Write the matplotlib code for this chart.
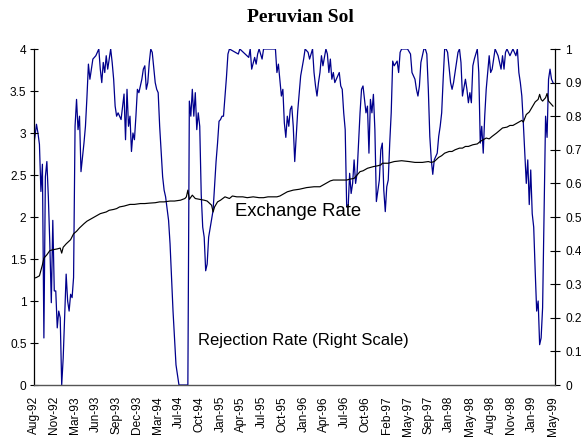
import matplotlib
matplotlib.use("Agg")
import matplotlib.pyplot as plt
import numpy as np

plt.rcParams['font.family'] = ['Liberation Sans', 'DejaVu Sans']

# x-axis category labels (one every 14 weekly observations)
tick_labels = ["Aug-92", "Nov-92", "Mar-93", "Jun-93", "Sep-93", "Dec-93", "Mar-94",
               "Jul-94", "Oct-94", "Jan-95", "Apr-95", "Jul-95", "Oct-95", "Jan-96",
               "Apr-96", "Jul-96", "Oct-96", "Feb-97", "May-97", "Sep-97", "Jan-98",
               "May-98", "Aug-98", "Nov-98", "Jan-99", "May-99"]
label_step = 14

# Exchange rate (left scale): (week index, value)
exchange_rate = [
    (0, 1.27), (2, 1.28), (4, 1.30), (6, 1.43), (7, 1.51), (9, 1.55), (11, 1.60), (13, 1.61),
    (16, 1.62), (18, 1.63), (19, 1.57), (20, 1.64), (22, 1.68), (25, 1.73), (27, 1.80),
    (29, 1.83), (31, 1.87), (34, 1.92), (36, 1.95), (38, 1.97), (40, 1.99), (43, 2.02),
    (45, 2.04), (47, 2.05), (49, 2.06), (51, 2.08), (54, 2.09), (56, 2.10), (58, 2.12),
    (61, 2.13), (65, 2.15), (68, 2.15), (72, 2.16), (75, 2.16), (78, 2.165), (82, 2.17),
    (85, 2.18), (88, 2.18), (92, 2.19), (95, 2.19), (99, 2.20), (102, 2.22), (103, 2.24),
    (104, 2.32), (105, 2.21), (107, 2.26), (109, 2.22), (112, 2.21), (115, 2.20), (117, 2.19),
    (120, 2.14), (121, 2.06), (122, 2.12), (124, 2.18), (126, 2.20), (129, 2.24), (132, 2.22),
    (134, 2.25), (137, 2.24), (141, 2.24), (144, 2.23), (148, 2.24), (152, 2.23), (155, 2.23),
    (158, 2.24), (161, 2.24), (164, 2.24), (166, 2.25), (169, 2.28), (171, 2.30), (173, 2.31),
    (175, 2.32), (179, 2.33), (184, 2.35), (189, 2.36), (193, 2.36), (197, 2.40), (200, 2.43),
    (202, 2.44), (206, 2.44), (211, 2.44), (213, 2.45), (216, 2.46), (218, 2.50), (220, 2.54),
    (222, 2.55), (225, 2.58), (229, 2.60), (232, 2.61), (234, 2.62), (235, 2.64), (239, 2.64),
    (243, 2.66), (248, 2.67), (253, 2.66), (257, 2.65), (262, 2.65), (266, 2.66), (268, 2.65),
    (270, 2.66), (273, 2.71), (275, 2.73), (277, 2.76), (280, 2.78), (282, 2.78), (284, 2.80),
    (287, 2.82), (289, 2.82), (291, 2.84), (293, 2.84), (296, 2.86), (299, 2.87), (301, 2.90),
    (303, 2.92), (305, 2.94), (307, 2.93), (309, 2.96), (312, 3.00), (314, 3.03), (316, 3.06),
    (319, 3.07), (321, 3.09), (323, 3.09), (325, 3.11), (327, 3.13), (329, 3.15), (330, 3.13),
    (332, 3.22), (334, 3.25), (336, 3.31), (338, 3.37), (340, 3.40), (341, 3.46), (342, 3.40),
    (343, 3.38), (345, 3.42), (346, 3.47), (347, 3.38), (348, 3.36), (349, 3.34), (350, 3.32),
]

# Rejection rate (right scale): (week index, value)
rejection_rate = [
    (0, .71), (1, .74), (2, .776), (3, .75), (4, .716), (5, .576), (6, .657), (7, .14), (8, .62),
    (9, .665), (10, .56), (11, .42), (12, .245), (13, .49), (14, .28), (15, .28), (16, .17),
    (17, .22), (18, .20), (19, 0), (20, .08), (22, .33), (23, .25), (24, .22), (25, .27),
    (26, .26), (27, .32), (28, .77), (29, .85), (30, .76), (31, .80), (32, .635), (34, .72),
    (35, .77), (36, .856), (37, .955), (38, .91), (39, .94), (40, .97), (42, .98), (44, 1.0),
    (45, .94), (46, .90), (47, .96), (48, .93), (49, .98), (50, .94), (52, 1.0), (53, .96),
    (54, .91), (55, .83), (56, .80), (57, .81), (59, .79), (61, .866), (62, .73), (63, .88),
    (64, .77), (65, .80), (66, .695), (67, .75), (68, .73), (69, .80), (70, .88), (71, .87),
    (73, .91), (74, .94), (75, .95), (76, .88), (77, .90), (78, .96), (79, 1.0), (80, .99),
    (82, .90), (83, .88), (84, .87), (85, .77), (86, .695), (87, .62), (88, .58), (89, .56),
    (91, .49), (92, .42), (93, .32), (94, .22), (95, .14), (96, .06), (97, .03), (98, 0),
    (104, 0), (105, .845), (106, .80), (107, .88), (108, .80), (109, .87), (110, .76), (111, .81),
    (112, .77), (113, .567), (114, .47), (115, .44), (116, .34), (117, .36), (118, .44),
    (121, .52), (123, .665), (124, .72), (125, .785), (126, .79), (127, .80), (128, .80),
    (130, .916), (131, .985), (132, 1.0), (138, .985), (139, 1.0), (145, .975), (146, 1.0),
    (147, .94), (149, .975), (150, .955), (151, .985), (152, 1.0), (154, .97), (155, 1.0),
    (163, 1.0), (164, .93), (165, .955), (167, .86), (168, .88), (169, .78), (170, .737),
    (171, .80), (172, .77), (173, .82), (174, .83), (175, .77), (176, .665), (178, .815),
    (180, .92), (182, .97), (183, 1.0), (185, .99), (186, .97), (188, 1.0), (189, .93),
    (190, .89), (191, .86), (192, .90), (193, .93), (194, .98), (195, .95), (197, 1.0),
    (198, .985), (199, .93), (200, .97), (201, .91), (202, .93), (203, .90), (204, .91),
    (206, .93), (207, .89), (208, .88), (209, .81), (210, .76), (211, .53), (212, .53),
    (213, .63), (214, .57), (215, .60), (216, .67), (217, .60), (218, .63), (219, .72),
    (220, .81), (221, .88), (222, .89), (224, .81), (225, .83), (226, .69), (227, .85),
    (228, .81), (229, .865), (230, .76), (231, .546), (233, .61), (234, .70), (235, .72),
    (236, .58), (237, .516), (238, .59), (239, .61), (240, .72), (241, .81), (242, .964),
    (243, .95), (245, .964), (246, .93), (247, .99), (248, 1.0), (252, 1.0), (254, .985),
    (255, .93), (256, .92), (257, .91), (258, .88), (259, .86), (260, .89), (261, .96),
    (263, 1.0), (264, 1.0), (265, .985), (266, .88), (267, .74), (268, .67), (269, .627),
    (270, .67), (272, .69), (273, .74), (274, .77), (275, .81), (276, .91), (277, 1.0),
    (278, 1.0), (279, .99), (281, .90), (282, .88), (283, .90), (284, .93), (285, .96),
    (286, .99), (287, 1.0), (288, .96), (289, .86), (291, .91), (292, .88), (293, .84),
    (294, .87), (295, .84), (296, .95), (297, .97), (299, 1.0), (300, .93), (301, .72),
    (302, .77), (303, .69), (304, .80), (305, .88), (306, .93), (307, .98), (308, .93),
    (309, .94), (310, .97), (311, 1.0), (313, .98), (314, .96), (315, .94), (316, .98),
    (317, .94), (318, .99), (319, 1.0), (321, .98), (323, 1.0), (325, .98), (326, 1.0),
    (327, .93), (328, .90), (329, .86), (330, .78), (331, .69), (332, .60), (333, .67),
    (334, .537), (335, .64), (336, .51), (337, .47), (338, .34), (339, .22), (340, .25),
    (341, .12), (342, .14), (343, .23), (344, .51), (345, .80), (346, .737), (347, .91),
    (348, .94), (349, .91), (350, .90),
]

left_ticks = [0, 0.5, 1, 1.5, 2, 2.5, 3, 3.5, 4]
right_ticks = [0, 0.1, 0.2, 0.3, 0.4, 0.5, 0.6, 0.7, 0.8, 0.9, 1]

W, H = 581, 437
fig = plt.figure(figsize=(W / 100, H / 100), dpi=100)
L, R, B, T = 33.5, 555, 385, 49
ax = fig.add_axes([L / W, 1 - B / H, (R - L) / W, (B - T) / H])
ax2 = ax.twinx()
ax.set_zorder(ax2.get_zorder() + 1)
ax.patch.set_visible(False)

ex_w, ex_v = zip(*exchange_rate)
rj_w, rj_v = zip(*rejection_rate)

ax2.plot(rj_w, rj_v, color='#00008C', lw=0.9)
ax.plot(ex_w, ex_v, color='black', lw=0.85)

n_last = label_step * (len(tick_labels) - 1)
ax.set_xlim(0, n_last + 1.35)
ax.set_ylim(0, 4)
ax2.set_ylim(0, 1)

ax.set_xticks([i * label_step for i in range(len(tick_labels))])
ax.set_xticklabels(tick_labels, rotation=90, fontsize=8.6)
ax.tick_params(axis='x', length=0, pad=8)

ax.set_yticks(left_ticks)
ax.set_yticklabels([f"{t:g}" for t in left_ticks], fontsize=8.6)
ax.tick_params(axis='y', direction='inout', length=6, width=0.8, pad=2)

ax2.set_yticks(right_ticks)
ax2.set_yticklabels([f"{t:g}" for t in right_ticks], fontsize=8.6)
ax2.tick_params(axis='y', direction='inout', length=7, width=0.8, pad=4)

for s in ['top', 'right']:
    ax.spines[s].set_visible(False)
ax.spines['left'].set_linewidth(0.9)
ax.spines['bottom'].set_color('#555555')
ax.spines['bottom'].set_linewidth(1.0)
for s in ['top', 'left', 'bottom']:
    ax2.spines[s].set_visible(False)
ax2.spines['right'].set_linewidth(0.9)

ax.text(136, 2.065, "Exchange Rate", fontsize=13.3, ha='left', va='center')
ax.text(110.5, 0.527, "Rejection Rate (Right Scale)", fontsize=12, ha='left', va='center')

fig.text(300.5 / W, 1 - 17 / H, "Peruvian Sol", fontsize=14, fontweight='bold',
         family='Liberation Serif', ha='center', va='center')

fig.savefig("out.png", dpi=100)
